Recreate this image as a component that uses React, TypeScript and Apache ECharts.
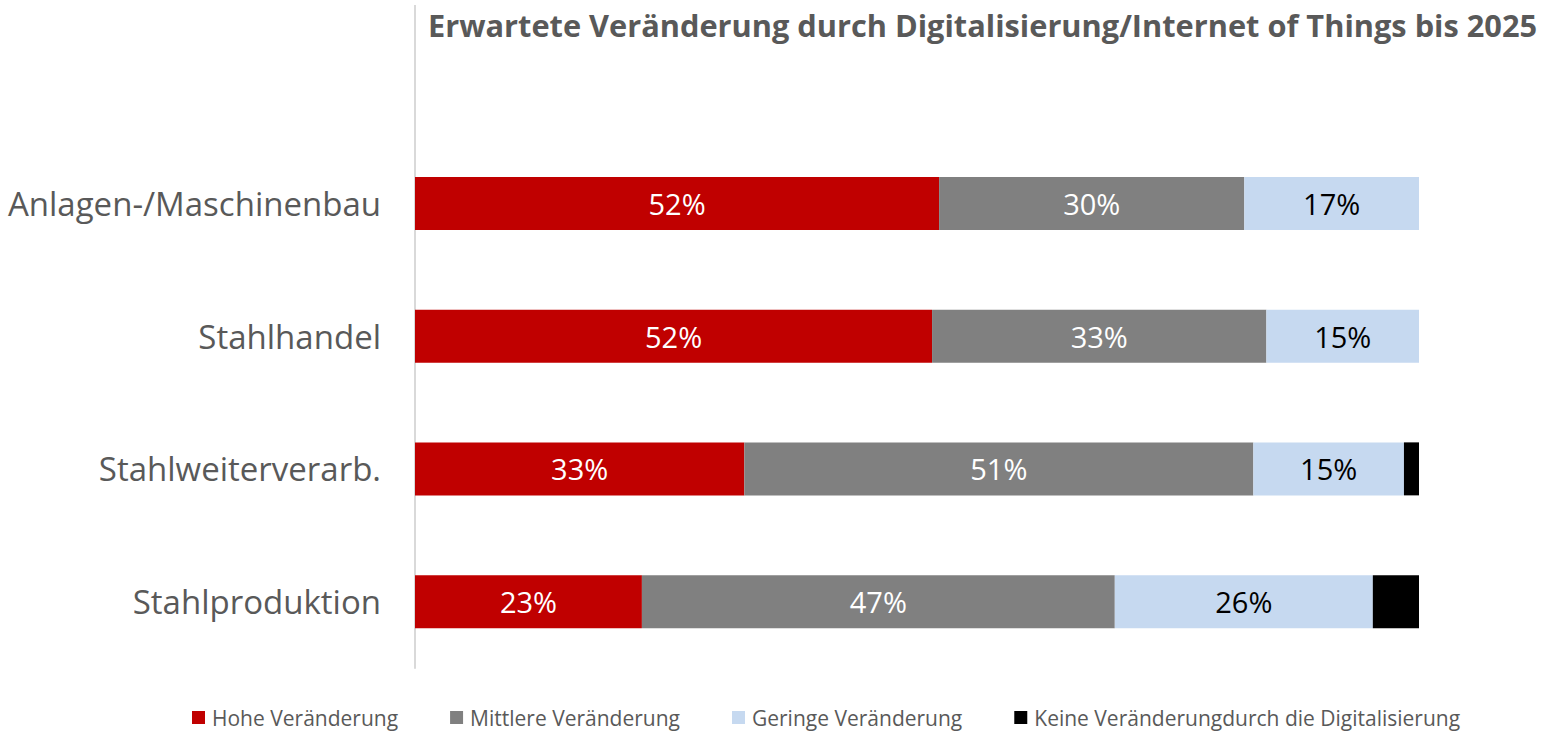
import React, { useEffect, useRef } from "react";
import * as echarts from "echarts";

const categories = ["Stahlproduktion", "Stahlweiterverarb.", "Stahlhandel", "Anlagen-/Maschinenbau"];
const seriesNames = [
  "Hohe Veränderung",
  "Mittlere Veränderung",
  "Geringe Veränderung",
  "Keine Veränderungdurch die Digitalisierung",
];
const hohe = [22.6, 32.8, 51.5, 52.2];
const mittlere = [47.1, 50.7, 33.3, 30.4];
const geringe = [25.7, 15.0, 15.2, 17.4];
const keine = [4.6, 1.5, 0, 0];
const colors = ["#C00000", "#808080", "#C6D9F0", "#000000"];
const labelColors = ["#FFFFFF", "#FFFFFF", "#000000", "#FFFFFF"];
const showLabels = [true, true, true, false];
const title = "Erwartete Veränderung durch Digitalisierung/Internet of Things bis 2025";

export default function App() {
  const ref = useRef<HTMLDivElement>(null);
  useEffect(() => {
    if (!ref.current) return;
    const chart = echarts.init(ref.current, undefined, { renderer: "svg" });
    const data = [hohe, mittlere, geringe, keine];
    chart.setOption({
      animation: false,
      backgroundColor: "#FFFFFF",
      title: {
        text: title,
        left: 423,
        top: 4,
        textStyle: { fontFamily: "Open Sans", fontWeight: "bold", fontSize: 30.75, color: "#595959" },
      },
      legend: {
        left: 187,
        top: 702,
        padding: [5, 5, 2, 5],
        itemWidth: 13,
        itemHeight: 13,
        itemGap: 52,
        icon: "rect",
        textStyle: {
          fontFamily: "Open Sans",
          fontSize: 21,
          lineHeight: 18,
          color: "#595959",
          padding: [0, 0, 0, 2],
        },
        data: seriesNames,
      },
      grid: { left: 415, right: 125, top: 137, bottom: 63, containLabel: false },
      xAxis: { type: "value", min: 0, max: 100, show: false },
      yAxis: {
        type: "category",
        data: categories,
        axisLine: { show: true, lineStyle: { color: "#D9D9D9", width: 2 } },
        axisTick: { show: false },
        axisLabel: { fontFamily: "Open Sans", fontSize: 33, color: "#595959", margin: 34 },
      },
      graphic: [
        {
          type: "line",
          shape: { x1: 415, y1: 5, x2: 415, y2: 137 },
          style: { stroke: "#D9D9D9", lineWidth: 2 },
        },
      ],
      series: seriesNames.map((name, i) => ({
        name,
        type: "bar",
        stack: "total",
        barWidth: 53,
        data: data[i],
        itemStyle: { color: colors[i] },
        label: {
          show: showLabels[i],
          position: "inside",
          fontFamily: "Open Sans",
          fontSize: 29,
          color: labelColors[i],
          formatter: (p: any) => Math.round(p.value) + "%",
        },
      })),
    });
    return () => chart.dispose();
  }, []);
  return <div ref={ref} style={{ position: "fixed", left: 0, top: 0, width: 1544, height: 731 }} />;
}
